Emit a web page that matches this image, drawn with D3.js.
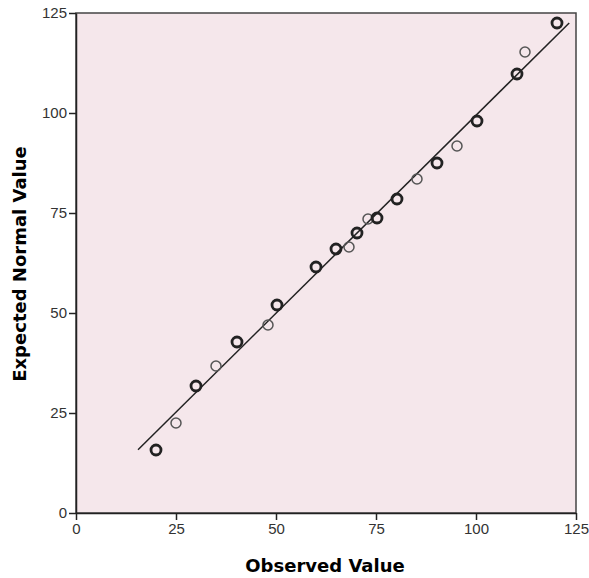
<!DOCTYPE html>
<html>
<head>
<meta charset="utf-8" />
<title>Normal Q-Q Plot</title>
<script src="https://cdn.jsdelivr.net/npm/d3@7"></script>
<style>
  body { margin: 0; background: #fff; }
  .tick text { font-family: "Liberation Sans", Arial, sans-serif; font-size: 15px; fill: #333; }
  .axis path, .axis line { stroke: #222; }
  .title { font-family: "DejaVu Sans", "Liberation Sans", sans-serif; font-weight: bold; font-size: 18px; fill: #000; }
</style>
</head>
<body>
<svg id="chart" width="589" height="578"></svg>
<script>
// observed values (x) and expected normal values (y)
var observed = [20, 25, 30, 35, 40.25, 48, 50.25, 60, 65, 68.25, 70.25, 73, 75.25, 80.25, 85.25, 90.25, 95.25, 100.25, 110.25, 112.25, 120.25];
var expected = [15.75, 22.5, 31.75, 36.75, 42.75, 47, 52, 61.5, 66, 66.5, 70, 73.5, 73.75, 78.5, 83.5, 87.5, 91.75, 98, 109.75, 115.25, 122.5];
// darker rings in the picture
var heavy = [1, 0, 1, 0, 1, 0, 1, 1, 1, 0, 1, 0, 1, 1, 0, 1, 0, 1, 1, 0, 1];
var lineX = [15.5, 123.3];
var lineY = [15.8, 122.5];
var xTicks = [0, 25, 50, 75, 100, 125];
var yTicks = [0, 25, 50, 75, 100, 125];

var svg = d3.select("#chart");
var mLeft = 76, mRight = 576, mTop = 13, mBottom = 513;

var x = d3.scaleLinear().domain([0, 125]).range([mLeft, mRight]);
var y = d3.scaleLinear().domain([0, 125]).range([mBottom, mTop]);

svg.append("rect")
  .attr("x", mLeft).attr("y", mTop)
  .attr("width", mRight - mLeft).attr("height", mBottom - mTop)
  .attr("fill", "#f5e7eb")
  .attr("stroke", "#444").attr("stroke-width", 1.5);

svg.append("g").attr("class", "axis")
  .attr("transform", "translate(0," + mBottom + ")")
  .call(d3.axisBottom(x).tickValues(xTicks).tickSize(7).tickPadding(3).tickSizeOuter(0))
  .call(function(g) { g.select(".domain").attr("stroke-width", 1.5); g.selectAll("line").attr("stroke-width", 1.5); });

svg.append("g").attr("class", "axis")
  .attr("transform", "translate(" + mLeft + ",0)")
  .call(d3.axisLeft(y).tickValues(yTicks).tickSize(7).tickPadding(2).tickSizeOuter(0))
  .call(function(g) { g.select(".domain").attr("stroke-width", 1.5); g.selectAll("line").attr("stroke-width", 1.5); });

svg.append("line")
  .attr("x1", x(lineX[0])).attr("y1", y(lineY[0]))
  .attr("x2", x(lineX[1])).attr("y2", y(lineY[1]))
  .attr("stroke", "#222").attr("stroke-width", 1.5);

svg.selectAll("circle.pt")
  .data(observed)
  .enter().append("circle")
  .attr("class", "pt")
  .attr("cx", function(d) { return x(d); })
  .attr("cy", function(d, i) { return y(expected[i]); })
  .attr("r", 5)
  .attr("fill", "none")
  .attr("stroke", function(d, i) { return heavy[i] ? "#222" : "#555"; })
  .attr("stroke-width", function(d, i) { return heavy[i] ? 2.8 : 1.5; });

svg.append("text").attr("class", "title")
  .attr("x", (mLeft + mRight) / 2 - 1).attr("y", 572)
  .attr("text-anchor", "middle")
  .text("Observed Value");

svg.append("text").attr("class", "title")
  .attr("transform", "translate(26,264) rotate(-90)")
  .attr("text-anchor", "middle")
  .text("Expected Normal Value");
</script>
</body>
</html>
